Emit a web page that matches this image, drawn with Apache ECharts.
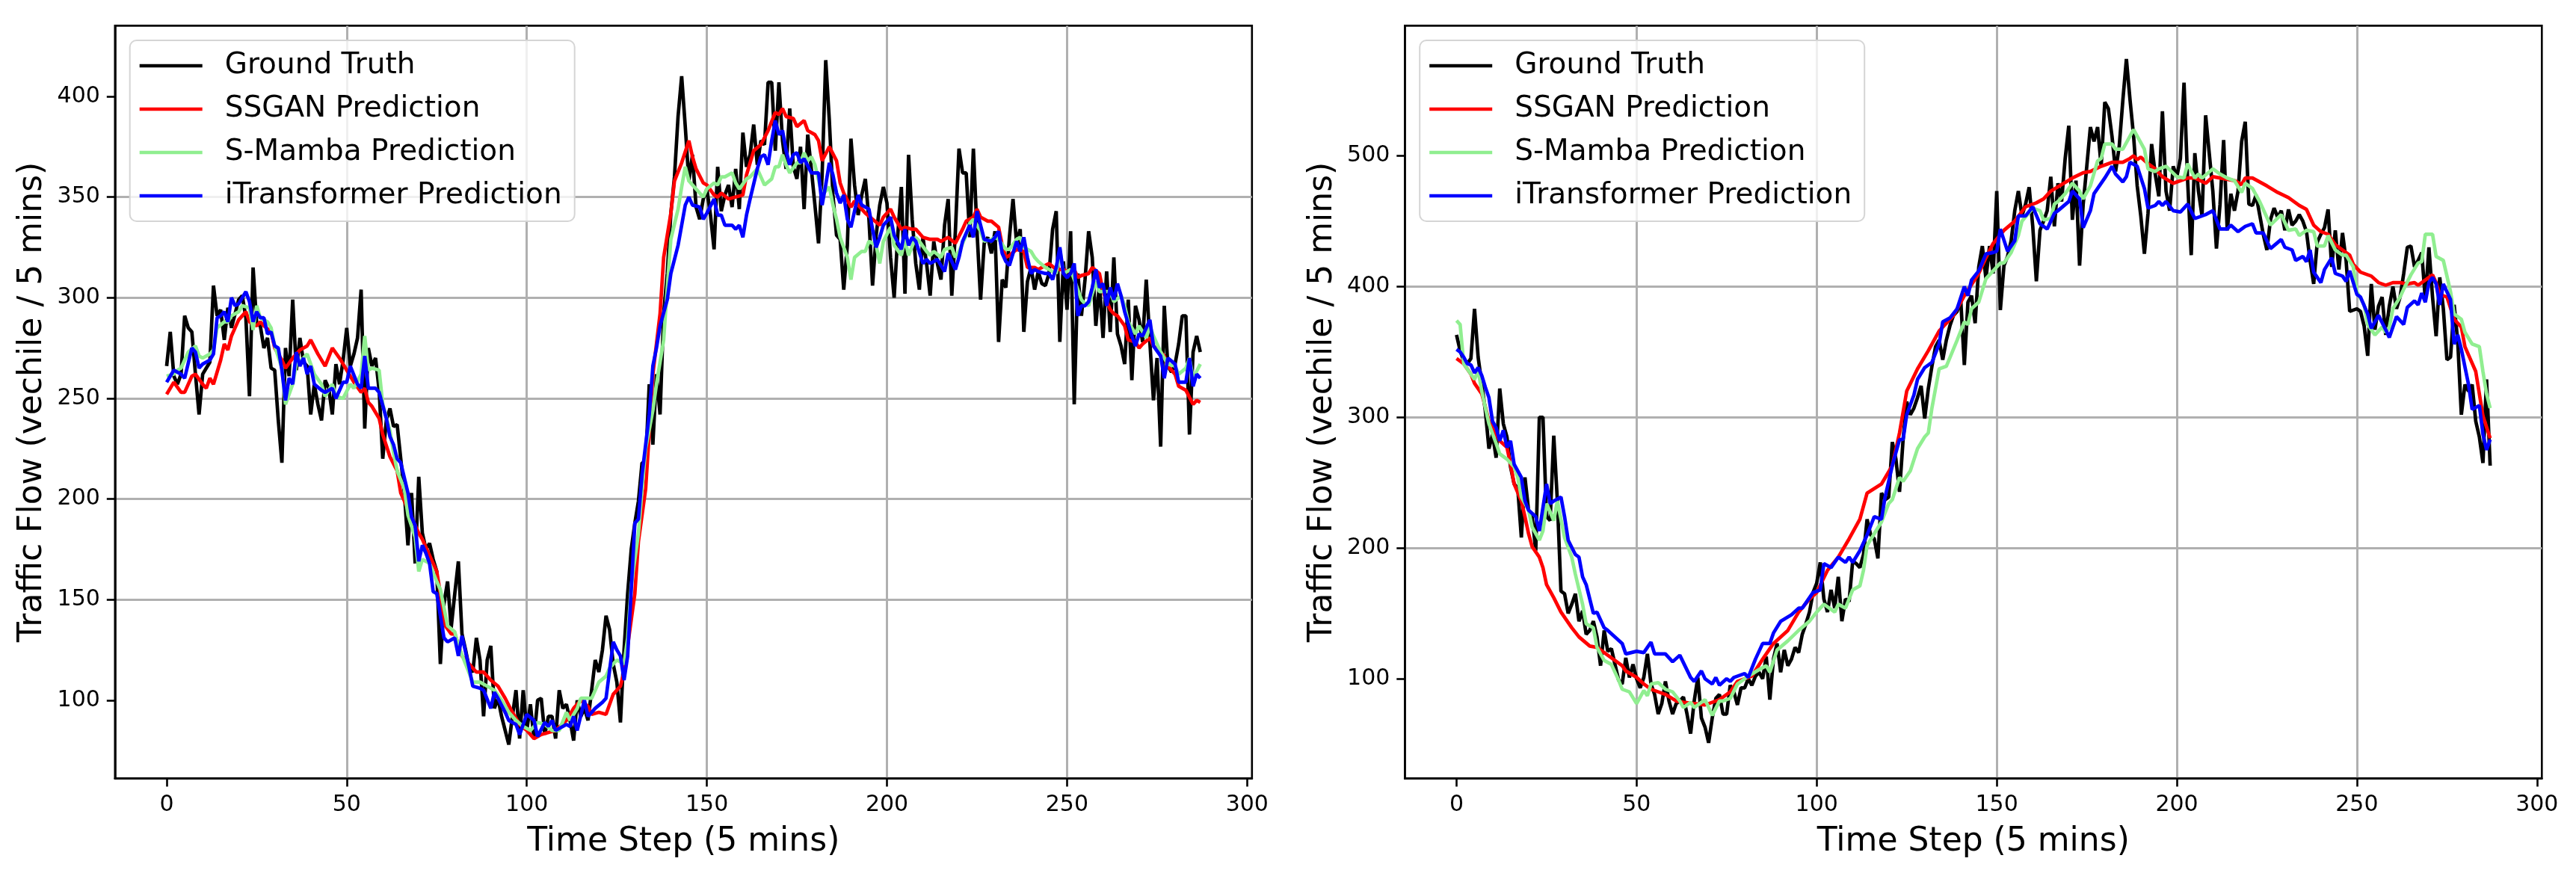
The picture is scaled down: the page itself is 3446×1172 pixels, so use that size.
<!DOCTYPE html>
<html><head><meta charset="utf-8">
<script src="https://cdn.jsdelivr.net/npm/echarts@6/dist/echarts.min.js"></script>
<style>html,body{margin:0;padding:0;background:#fff}#c{width:3446px;height:1172px}</style>
</head><body><div id="c"></div>
<script>
const xTicks = [0,50,100,150,200,250,300];
const leftYTicks = [100,150,200,250,300,350,400];
const rightYTicks = [100,200,300,400,500];
const seriesNames = ['Ground Truth','SSGAN Prediction','S-Mamba Prediction','iTransformer Prediction'];
const seriesColors = ['#000000','#ff0000','#90ee90','#0000ff'];
const xLabel = 'Time Step (5 mins)';
const yLabel = 'Traffic Flow (vechile / 5 mins)';

// Left panel: ground truth, one value per time step 0..287
const leftTruth = [
266,283,261,257,262,291,285,283,262,242,
262,265,268,306,291,294,279,295,285,292,
299,301,290,251,315,287,286,275,280,265,
264,239,218,275,261,299,264,280,268,266,
242,257,247,239,259,255,242,267,257,269,
285,266,272,280,304,235,275,266,270,254,
220,239,245,236,237,220,203,177,203,168,
211,183,175,178,170,164,118,148,159,136,
153,169,133,125,116,114,131,120,92,120,
127,96,101,92,85,78,92,105,81,105,
85,98,81,100,101,83,92,92,81,105,
96,98,90,80,100,92,96,90,105,120,
114,125,142,135,118,109,89,125,153,175,
188,199,218,218,257,227,262,242,292,312,
342,360,390,410,385,358,371,345,339,349,
354,341,324,365,343,351,356,345,364,344,
382,365,371,386,366,378,376,407,407,373,
407,378,364,394,365,359,375,344,381,364,
346,327,361,418,388,351,331,329,304,326,
379,356,341,351,359,339,306,331,346,355,
347,320,300,331,355,302,371,339,317,304,
330,317,301,328,317,309,336,349,301,333,
374,362,362,330,374,333,299,327,330,322,
333,278,309,305,330,349,327,334,283,308,
315,304,313,307,306,312,334,343,278,318,
294,333,247,312,291,309,333,320,286,307,
280,313,283,320,282,276,267,299,259,296,
289,278,309,278,249,270,226,296,266,263,
267,277,291,291,232,273,281,273];

// Left panel predictions: [time step, value]
const leftSSGAN = [[0,252],[2,258],[4,253],[5,253],[7,261],[8,262],[10,257],[11,255],[12,260],[13,257],[15,269],[16,277],[17,274],[18,281],[19,285],[20,289],[22,293],[23,288],[25,286],[26,288],[27,286],[29,283],[30,275],[32,269],[33,265],[35,270],[37,274],[39,276],[40,279],[42,272],[44,266],[46,275],[48,270],[49,267],[51,261],[52,258],[54,253],[55,255],[56,248],[57,246],[59,240],[60,232],[62,221],[64,214],[65,203],[67,195],[70,183],[71,180],[73,172],[75,164],[76,153],[77,138],[79,133],[80,133],[82,122],[84,118],[86,114],[88,114],[90,110],[92,107],[94,101],[96,94],[98,88],[100,85],[102,81],[104,83],[106,84],[108,85],[111,90],[113,96],[115,100],[117,97],[118,93],[120,94],[122,93],[124,103],[126,107],[127,114],[128,127],[130,153],[131,179],[133,205],[134,233],[135,262],[137,292],[138,320],[140,342],[141,358],[143,367],[145,378],[146,370],[147,364],[149,357],[150,356],[152,351],[153,350],[154,352],[156,349],[158,350],[160,351],[161,361],[163,373],[165,376],[167,383],[169,392],[170,391],[171,394],[172,390],[174,389],[175,385],[177,388],[178,383],[180,381],[181,378],[182,368],[184,375],[186,368],[187,357],[188,352],[190,345],[191,348],[192,346],[194,342],[196,339],[198,336],[199,340],[201,344],[202,340],[204,334],[205,335],[207,334],[208,334],[210,330],[212,329],[214,329],[215,328],[217,330],[219,327],[221,334],[222,338],[224,340],[225,344],[226,340],[228,338],[229,338],[231,335],[232,326],[233,320],[234,321],[236,324],[238,323],[239,315],[241,315],[242,314],[244,316],[245,317],[247,314],[249,314],[250,313],[252,314],[253,310],[254,311],[256,312],[257,315],[259,312],[260,303],[262,294],[263,292],[264,291],[266,286],[267,279],[269,278],[270,275],[271,277],[273,280],[274,276],[276,273],[277,271],[278,266],[280,262],[281,256],[283,254],[285,247],[286,249],[287,248]];

const leftSMamba = [[0,261],[2,262],[3,264],[4,265],[6,273],[8,276],[9,271],[10,270],[12,272],[13,274],[14,285],[16,288],[17,288],[18,291],[20,293],[21,296],[23,295],[24,284],[25,296],[26,290],[28,288],[29,285],[30,276],[32,265],[33,247],[35,257],[36,267],[38,270],[39,272],[41,262],[43,257],[44,251],[46,257],[47,251],[49,250],[51,257],[52,255],[54,262],[55,281],[56,264],[57,265],[59,264],[60,247],[62,234],[63,223],[64,214],[66,205],[67,192],[69,181],[70,164],[71,170],[73,168],[75,159],[76,155],[78,137],[80,134],[81,127],[83,118],[85,109],[87,109],[89,107],[91,105],[93,100],[95,94],[97,90],[99,87],[101,85],[103,89],[105,88],[107,85],[109,85],[111,94],[112,90],[114,96],[115,101],[118,101],[120,109],[122,112],[123,116],[125,120],[127,118],[128,131],[129,157],[131,183],[132,205],[133,225],[135,244],[136,257],[138,279],[139,305],[140,329],[142,344],[143,355],[144,365],[145,358],[147,354],[148,352],[149,350],[150,354],[152,357],[153,356],[154,360],[155,360],[157,362],[158,357],[159,354],[161,359],[162,360],[164,364],[165,360],[166,356],[168,359],[169,365],[170,365],[171,371],[172,366],[173,362],[175,367],[176,367],[177,372],[178,368],[179,370],[180,366],[182,351],[184,355],[185,346],[186,339],[187,330],[189,320],[190,309],[191,320],[193,323],[194,323],[195,328],[197,326],[198,317],[199,328],[201,335],[202,326],[204,321],[205,329],[206,321],[208,330],[209,328],[211,323],[212,321],[213,323],[215,320],[216,324],[218,325],[219,320],[220,323],[222,331],[223,337],[224,339],[226,333],[227,328],[229,329],[230,330],[231,329],[233,324],[234,324],[236,329],[237,330],[238,325],[240,323],[241,320],[242,318],[244,315],[245,314],[247,312],[248,324],[249,312],[251,314],[252,309],[254,299],[255,297],[256,296],[258,308],[259,303],[260,303],[262,303],[263,298],[265,301],[266,296],[267,288],[269,282],[270,286],[272,280],[273,286],[274,281],[276,273],[277,270],[278,267],[280,266],[281,262],[283,265],[284,270],[285,260],[287,267]];

const leftITrans = [[0,258],[2,264],[4,262],[5,260],[7,275],[8,273],[9,265],[10,267],[12,269],[13,272],[14,290],[15,291],[16,293],[17,288],[18,300],[19,296],[20,297],[22,303],[23,298],[24,288],[25,293],[26,290],[27,290],[28,282],[29,283],[30,276],[31,275],[32,264],[33,249],[34,260],[35,257],[36,273],[37,266],[38,270],[39,262],[40,266],[41,257],[43,254],[44,253],[46,255],[47,250],[49,258],[50,258],[51,266],[53,257],[54,255],[55,271],[56,255],[58,255],[59,253],[61,240],[62,231],[63,227],[64,220],[65,218],[67,203],[68,191],[69,187],[70,169],[71,177],[72,173],[73,168],[74,154],[75,153],[77,131],[78,129],[80,131],[81,122],[82,132],[84,116],[85,107],[87,106],[88,105],[90,96],[91,104],[92,101],[94,94],[95,90],[97,88],[98,83],[100,93],[102,90],[103,82],[105,89],[106,87],[107,90],[108,85],[111,88],[112,87],[113,92],[114,85],[116,100],[117,92],[119,96],[121,99],[122,101],[124,129],[125,125],[126,122],[127,110],[128,122],[130,188],[131,190],[132,212],[134,242],[135,266],[136,275],[137,286],[139,299],[140,312],[141,319],[142,326],[143,336],[144,346],[145,350],[146,346],[148,345],[149,339],[150,342],[152,349],[153,341],[154,341],[155,336],[157,336],[158,334],[159,336],[160,330],[161,341],[162,349],[164,364],[165,370],[166,371],[167,366],[168,378],[169,388],[170,381],[171,383],[172,373],[173,366],[174,371],[175,372],[176,367],[177,369],[179,362],[181,362],[182,346],[183,356],[184,367],[185,361],[186,352],[187,347],[188,351],[189,339],[190,335],[192,351],[193,346],[195,344],[196,334],[197,325],[198,330],[199,336],[201,340],[202,331],[204,324],[205,334],[206,326],[207,330],[208,328],[210,317],[211,319],[212,317],[214,319],[216,313],[217,322],[218,318],[219,314],[220,320],[221,328],[223,336],[224,330],[225,343],[226,336],[227,329],[229,328],[230,330],[231,333],[232,322],[233,318],[234,316],[235,322],[236,328],[237,323],[238,330],[239,320],[240,312],[241,314],[242,313],[244,312],[245,312],[246,309],[247,315],[248,325],[249,312],[250,310],[251,312],[252,317],[253,291],[254,296],[255,296],[256,298],[257,305],[258,314],[259,305],[260,307],[261,296],[262,305],[263,299],[264,307],[265,301],[266,293],[267,287],[268,281],[269,276],[270,282],[271,281],[273,289],[274,276],[276,271],[277,260],[278,270],[280,267],[281,258],[283,258],[284,270],[285,256],[286,262],[287,260]];

// Right panel: ground truth, one value per time step 0..287
const rightTruth = [
363,351,343,341,345,383,346,326,305,276,
287,269,322,295,285,262,249,246,208,254,
229,224,198,300,300,224,221,286,236,167,
165,150,157,165,144,152,134,137,144,132,
110,137,121,123,111,99,96,116,101,111,
100,93,101,119,96,88,73,81,98,83,
73,81,83,86,73,58,83,101,70,63,
51,70,85,88,73,73,95,90,80,93,
93,100,95,102,105,100,117,84,115,127,
105,122,110,115,124,120,134,142,151,166,
173,189,161,151,168,154,178,144,161,159,
190,188,185,195,222,210,207,192,242,237,
239,281,268,243,283,312,302,307,315,324,
299,322,339,354,359,344,359,370,378,381,
390,340,388,393,372,415,431,406,431,410,
473,382,416,423,435,458,473,454,463,476,
446,404,443,450,458,484,446,479,465,498,
523,451,481,416,463,492,522,511,522,492,
541,536,515,488,507,542,574,543,515,477,
454,425,456,509,486,469,534,473,458,492,
484,498,556,481,424,502,473,454,531,502,
473,429,463,512,443,471,458,473,511,526,
463,462,470,455,440,428,451,460,453,458,
443,459,447,450,455,450,442,420,402,434,
440,445,459,415,443,413,441,420,381,382,
383,381,370,347,402,367,385,392,363,385,
400,383,392,410,430,431,415,420,426,390,
430,392,362,407,383,344,346,386,358,302,
325,320,325,297,285,265,329,263];

const rightSSGAN = [[0,345],[2,341],[4,333],[5,326],[7,318],[8,308],[9,297],[11,287],[12,282],[14,277],[15,264],[16,249],[18,236],[19,224],[20,211],[21,201],[23,193],[24,185],[25,172],[27,162],[29,151],[32,139],[34,132],[37,125],[39,124],[42,118],[44,114],[46,110],[47,106],[50,101],[52,96],[54,92],[56,90],[58,88],[61,83],[63,82],[66,81],[69,80],[73,84],[76,90],[78,98],[82,102],[85,115],[88,127],[92,137],[95,151],[98,161],[100,166],[103,183],[106,193],[109,207],[112,222],[114,242],[118,249],[121,263],[123,288],[125,320],[128,337],[131,351],[134,366],[138,378],[141,393],[145,410],[147,422],[149,433],[152,443],[155,450],[158,461],[161,464],[163,467],[165,473],[168,478],[171,483],[174,487],[176,488],[179,492],[182,495],[185,495],[187,498],[188,500],[189,497],[190,499],[192,494],[194,490],[196,484],[199,479],[201,481],[203,483],[205,483],[208,479],[210,484],[212,483],[214,482],[216,481],[218,478],[219,483],[221,483],[225,477],[228,472],[231,468],[234,462],[236,459],[238,447],[240,442],[242,440],[244,432],[246,428],[248,424],[249,417],[251,411],[254,408],[256,403],[258,401],[260,403],[262,403],[264,402],[266,403],[267,401],[269,405],[271,409],[272,403],[273,394],[275,392],[277,375],[279,369],[280,354],[283,335],[284,318],[285,301],[287,284]];

const rightSMamba = [[0,374],[1,371],[2,341],[4,333],[5,329],[6,336],[7,320],[9,295],[11,280],[12,272],[14,268],[16,262],[17,254],[18,239],[20,229],[21,216],[23,206],[24,213],[25,234],[27,221],[28,236],[30,208],[32,193],[33,180],[35,157],[36,142],[38,139],[39,124],[41,114],[43,111],[45,99],[46,92],[48,90],[50,81],[52,91],[53,87],[54,96],[56,97],[58,92],[60,90],[62,83],[63,78],[65,82],[66,78],[69,84],[71,72],[73,83],[74,83],[76,85],[78,96],[81,102],[84,107],[86,110],[87,105],[89,122],[92,129],[95,137],[98,144],[100,151],[102,157],[105,151],[106,157],[108,154],[110,168],[112,171],[113,183],[114,202],[118,220],[120,234],[121,237],[123,254],[124,251],[126,259],[128,276],[130,285],[131,288],[132,307],[134,337],[136,339],[139,359],[141,373],[142,371],[143,383],[145,388],[147,406],[149,412],[151,418],[152,418],[154,426],[156,439],[157,450],[160,460],[162,458],[163,451],[165,452],[166,463],[167,465],[169,471],[171,479],[173,473],[174,467],[176,477],[178,496],[179,498],[180,509],[182,509],[183,505],[185,505],[187,515],[188,520],[189,515],[191,505],[192,490],[194,488],[195,490],[197,492],[200,484],[202,483],[203,494],[205,483],[206,486],[207,483],[210,490],[212,486],[214,483],[216,481],[218,472],[219,479],[221,475],[222,470],[223,465],[224,459],[226,447],[229,455],[231,443],[233,444],[234,439],[236,443],[238,442],[239,431],[241,431],[242,439],[244,428],[246,424],[247,424],[249,415],[250,396],[252,386],[253,371],[255,363],[257,369],[258,365],[259,369],[260,383],[262,392],[263,398],[265,409],[267,418],[268,419],[269,440],[271,440],[272,423],[274,420],[276,396],[277,379],[279,375],[280,365],[282,356],[284,354],[285,335],[286,318],[287,307]];

const rightITrans = [[0,352],[1,350],[2,346],[3,341],[4,340],[5,334],[6,338],[7,332],[8,323],[9,315],[10,297],[11,292],[12,282],[13,290],[14,277],[15,282],[16,264],[18,254],[19,236],[20,229],[22,224],[23,213],[25,249],[26,234],[27,236],[29,239],[30,224],[31,206],[33,195],[34,193],[35,178],[36,172],[38,150],[39,151],[41,139],[42,137],[44,132],[46,127],[47,119],[50,121],[52,120],[54,128],[55,119],[58,119],[60,113],[62,118],[65,101],[66,98],[68,106],[69,100],[71,96],[72,101],[73,95],[75,100],[76,98],[77,101],[80,104],[81,101],[83,115],[85,127],[87,127],[88,135],[90,144],[93,149],[95,154],[96,154],[99,166],[101,168],[102,188],[104,185],[106,193],[108,189],[109,193],[110,189],[112,198],[114,210],[116,224],[118,222],[119,239],[121,263],[123,283],[124,283],[125,302],[127,317],[128,329],[130,338],[132,342],[134,356],[135,373],[137,376],[139,383],[141,400],[142,393],[143,405],[145,412],[147,425],[149,426],[150,427],[151,444],[153,427],[155,435],[156,454],[158,454],[160,461],[162,448],[164,444],[166,456],[167,458],[170,465],[171,473],[173,467],[174,445],[176,458],[177,471],[179,479],[180,483],[182,492],[183,486],[185,480],[186,484],[187,495],[189,492],[191,475],[192,460],[194,462],[195,465],[196,462],[197,465],[199,458],[201,457],[203,463],[205,452],[207,454],[208,455],[210,458],[212,444],[214,444],[215,447],[217,442],[219,446],[221,448],[222,441],[224,441],[226,429],[229,436],[230,430],[232,428],[233,420],[235,423],[236,419],[237,428],[238,411],[240,403],[241,413],[243,422],[244,410],[246,408],[247,404],[248,412],[250,394],[251,392],[253,379],[254,368],[256,378],[258,367],[259,361],[260,369],[261,377],[263,371],[264,384],[266,389],[267,386],[268,395],[269,388],[270,403],[271,407],[272,402],[273,386],[274,402],[276,390],[277,356],[278,363],[279,352],[281,325],[282,306],[284,309],[285,287],[286,275],[287,283]];

const F = 'DejaVu Sans';
const chart = echarts.init(document.getElementById('c'), null, {renderer: 'canvas'});

function gridCfg(left) {
  return {left: left, top: 34.4, width: 1521, height: 1007, show: true,
    borderColor: '#000', borderWidth: 2.6, backgroundColor: 'transparent', containLabel: false};
}
function xAxisCfg(gi) {
  return {type: 'value', gridIndex: gi, min: -14.35, max: 301.35,
    name: xLabel, nameLocation: 'middle', nameGap: 63,
    nameTextStyle: {fontSize: 44, fontFamily: F, color: '#000'},
    axisLine: {show: true, onZero: false, lineStyle: {color: '#000', width: 2.6}},
    axisTick: {show: true, inside: false, length: 11, lineStyle: {color: '#000', width: 2.6}, customValues: xTicks},
    axisLabel: {fontSize: 30, fontFamily: F, color: '#000', margin: 21, customValues: xTicks},
    splitLine: {show: true, showMinLine: false, showMaxLine: false, lineStyle: {color: '#b0b0b0', width: 3}}};
}
function yAxisCfg(gi, mn, mx, ticks) {
  return {type: 'value', gridIndex: gi, min: mn, max: mx,
    name: yLabel, nameLocation: 'middle', nameGap: 88, nameRotate: 90,
    nameTextStyle: {fontSize: 44, fontFamily: F, color: '#000'},
    axisLine: {show: true, onZero: false, lineStyle: {color: '#000', width: 2.6}},
    axisTick: {show: true, inside: false, length: 11, lineStyle: {color: '#000', width: 2.6}, customValues: ticks},
    axisLabel: {fontSize: 30, fontFamily: F, color: '#000', margin: 20, customValues: ticks},
    splitLine: {show: true, showMinLine: false, showMaxLine: false, lineStyle: {color: '#b0b0b0', width: 3}}};
}
function legendCfg(left) {
  return {left: left, top: 54, orient: 'vertical', data: seriesNames,
    icon: 'rect', itemWidth: 84, itemHeight: 4.7, itemGap: 18,
    padding: [14, 17, 14, 13],
    backgroundColor: 'rgba(255,255,255,0.8)', borderColor: '#d5d5d5', borderWidth: 2, borderRadius: 9,
    textStyle: {fontSize: 39, fontFamily: F, color: '#000', lineHeight: 40, padding: [0, 0, 0, 25]},
    selectedMode: false};
}
function lineSeries(name, idx, gi, data) {
  return {name: name, type: 'line', xAxisIndex: gi, yAxisIndex: gi, data: data,
    symbol: 'none', showSymbol: false, smooth: false, clip: true,
    color: seriesColors[idx], itemStyle: {color: seriesColors[idx]},
    lineStyle: {color: seriesColors[idx], width: 4.7}, z: 2 + idx * 0.1};
}
const leftSets = [leftTruth.map((v, i) => [i, v]), leftSSGAN, leftSMamba, leftITrans];
const rightSets = [rightTruth.map((v, i) => [i, v]), rightSSGAN, rightSMamba, rightITrans];
const series = [];
seriesNames.forEach((n, i) => series.push(lineSeries(n, i, 0, leftSets[i])));
seriesNames.forEach((n, i) => series.push(lineSeries(n, i, 1, rightSets[i])));

chart.setOption({
  animation: false,
  backgroundColor: '#ffffff',
  textStyle: {fontFamily: F},
  grid: [gridCfg(153.8), gridCfg(1879.3)],
  xAxis: [xAxisCfg(0), xAxisCfg(1)],
  yAxis: [yAxisCfg(0, 61.2, 435.1, leftYTicks), yAxisCfg(1, 23.8, 599.5, rightYTicks)],
  legend: [legendCfg(173.7), legendCfg(1899.2)],
  series: series
});
</script></body></html>
